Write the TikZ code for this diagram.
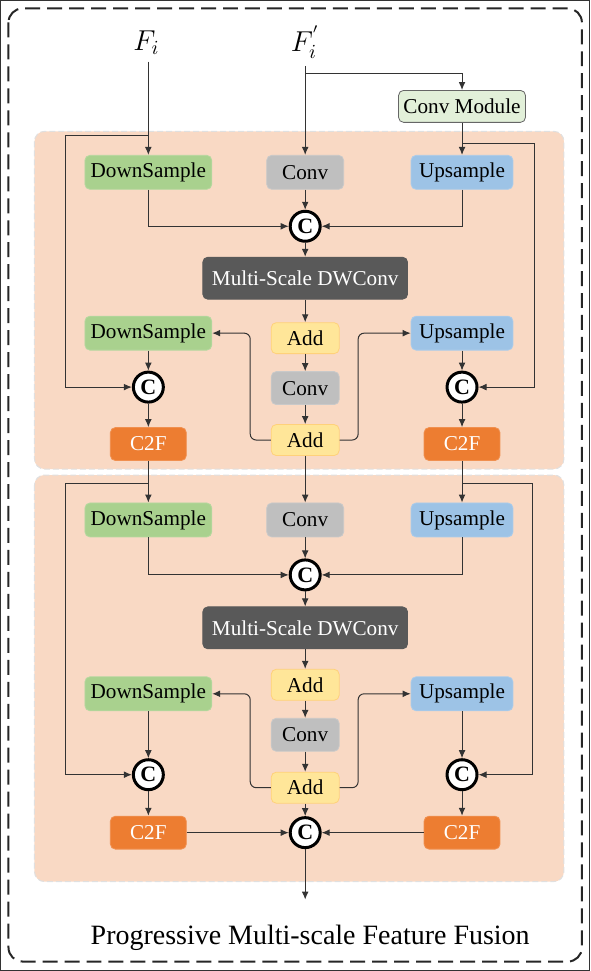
\documentclass[tikz,border=0pt]{standalone}
\usepackage{fontspec}
\setmainfont{Liberation Serif}
\usetikzlibrary{arrows.meta}
\definecolor{panelfill}{HTML}{F9D9C4}
\definecolor{dsgreen}{HTML}{A9D18E}
\definecolor{convgray}{HTML}{BFBFBF}
\definecolor{upblue}{HTML}{9DC3E6}
\definecolor{msgray}{HTML}{595959}
\definecolor{addyellow}{HTML}{FFE699}
\definecolor{c2forange}{HTML}{ED7D31}
\definecolor{cmgreen}{HTML}{E2F0D9}
\begin{document}
\begin{tikzpicture}[x=0.5pt,y=-0.5pt,>={Latex[length=4pt,width=3.4pt]},
    every path/.style={line width=0.5pt,draw=black!80},
    blk/.style={rounded corners=2.5pt,minimum height=17pt,inner sep=1pt,line width=0.4pt,
      font=\fontsize{10.6}{12}\selectfont},
    dsbox/.style={blk,fill=dsgreen,draw=dsgreen!85!white,minimum width=63.5pt},
    cvbox/.style={blk,fill=convgray,draw=convgray!85!white,minimum width=38.5pt},
    upbox/.style={blk,fill=upblue,draw=upblue!85!white,minimum width=51pt},
    msbox/.style={blk,fill=msgray,draw=msgray,text=white,minimum width=102.5pt,minimum height=21pt},
    addbox/.style={blk,fill=addyellow,draw=addyellow!80!orange,minimum width=34pt,minimum height=15.5pt},
    smcv/.style={blk,fill=convgray,draw=convgray!85!white,minimum width=34pt,minimum height=16.5pt},
    c2fbox/.style={blk,fill=c2forange,draw=c2forange!85!white,text=white,minimum width=38pt,minimum height=16.5pt},
    cat/.style={circle,draw=black,line width=1.5pt,fill=white,minimum size=15pt,inner sep=0pt,
      font=\fontsize{11}{12}\selectfont\bfseries},
    panel/.style={fill=panelfill,draw=black!12,dash pattern=on 3pt off 1.5pt,rounded corners=5pt}]
  \useasboundingbox (0,0) rectangle (590,971);
  \draw[black!85,line width=1pt,dash pattern=on 7.5pt off 3.5pt,rounded corners=7pt] (8,8) rectangle (582,962);
  \path[panel] (34,131) rectangle (564,469);
  \path[panel] (34,475) rectangle (564,882);
  % inputs
  \node (fi) at (146,42) {\fontsize{14}{16}\selectfont$F_i$};
  \node (fp) at (305,42) {\fontsize{14}{16}\selectfont$F_i^{'}$};
  \node[blk,fill=cmgreen,draw=black!60,minimum width=63.5pt,minimum height=16pt] (cm) at (462,106) {Conv Module};
  % first stage
  \node[dsbox] (ds1) at (148,172) {DownSample};
  \node[cvbox] (cv1) at (305,172) {Conv};
  \node[upbox] (up1) at (462,172) {Upsample};
  \node[cat] (cat1) at (305,226) {C};
  \node[msbox] (ms1) at (305,278) {Multi-Scale DWConv};
  \node[addbox] (add1) at (305,338) {Add};
  \node[smcv] (cv2) at (305,388) {Conv};
  \node[addbox] (add2) at (305,440) {Add};
  \node[dsbox] (ds2) at (148,333) {DownSample};
  \node[upbox] (up2) at (462,333) {Upsample};
  \node[cat] (catl1) at (148,387) {C};
  \node[cat] (catr1) at (462,387) {C};
  \node[c2fbox] (c2fl1) at (148,444) {C2F};
  \node[c2fbox] (c2fr1) at (462,444) {C2F};
  % second stage
  \node[dsbox] (ds3) at (148,520) {DownSample};
  \node[cvbox] (cv3) at (305,520) {Conv};
  \node[upbox] (up3) at (462,520) {Upsample};
  \node[cat] (cat2) at (305,575) {C};
  \node[msbox] (ms2) at (305,628) {Multi-Scale DWConv};
  \node[addbox] (add3) at (305,685) {Add};
  \node[smcv] (cv4) at (305,735) {Conv};
  \node[addbox] (add4) at (305,788) {Add};
  \node[dsbox] (ds4) at (148,694) {DownSample};
  \node[upbox] (up4) at (462,694) {Upsample};
  \node[cat] (catl2) at (148,775) {C};
  \node[cat] (catr2) at (462,775) {C};
  \node[c2fbox] (c2fl2) at (148,833) {C2F};
  \node[c2fbox] (c2fr2) at (462,833) {C2F};
  \node[cat] (catf) at (305,833) {C};
  \coordinate (out) at (305,900);
  \node[font=\fontsize{14}{16}\selectfont] (title) at (310,938) {Progressive Multi-scale Feature Fusion};
  % junctions
  \coordinate (jf) at (305,73);
  \coordinate (jl1) at (148,135);
  \coordinate (jr1) at (462,143);
  \coordinate (jl2) at (148,483);
  \coordinate (jr2) at (462,483);
  % connectors, input
  \draw[->] (fi.south -| ds1) -- (ds1);
  \draw[->] (fp.south -| cv1) -- (cv1);
  \draw[->] (jf) -| (cm);
  \draw[->] (cm) -- (up1);
  \draw[->] (jl1) -- (65,135) |- (catl1);
  \draw[->] (jr1) -- (535,143) |- (catr1);
  % connectors, first stage
  \draw[->] (ds1) |- (cat1);
  \draw[->] (up1) |- (cat1);
  \draw[->] (cv1) -- (cat1);
  \draw[->] (cat1) -- (ms1);
  \draw[->] (ms1) -- (add1);
  \draw[->] (add1) -- (cv2);
  \draw[->] (cv2) -- (add2);
  \draw[->,rounded corners=3pt] (add2) -- (250,440) |- (ds2);
  \draw[->,rounded corners=3pt] (add2) -- (358,440) |- (up2);
  \draw[->] (ds2) -- (catl1);
  \draw[->] (up2) -- (catr1);
  \draw[->] (catl1) -- (c2fl1);
  \draw[->] (catr1) -- (c2fr1);
  % connectors, second stage
  \draw[->] (c2fl1) -- (ds3);
  \draw[->] (c2fr1) -- (up3);
  \draw[->] (add2) -- (cv3);
  \draw[->] (jl2) -- (65,483) |- (catl2);
  \draw[->] (jr2) -- (533,483) |- (catr2);
  \draw[->] (ds3) |- (cat2);
  \draw[->] (up3) |- (cat2);
  \draw[->] (cv3) -- (cat2);
  \draw[->] (cat2) -- (ms2);
  \draw[->] (ms2) -- (add3);
  \draw[->] (add3) -- (cv4);
  \draw[->] (cv4) -- (add4);
  \draw[->,rounded corners=3pt] (add4) -- (250,788) |- (ds4);
  \draw[->,rounded corners=3pt] (add4) -- (358,788) |- (up4);
  \draw[->] (ds4) -- (catl2);
  \draw[->] (up4) -- (catr2);
  \draw[->] (catl2) -- (c2fl2);
  \draw[->] (catr2) -- (c2fr2);
  \draw[->] (c2fl2) -- (catf);
  \draw[->] (c2fr2) -- (catf);
  \draw[->] (add4) -- (catf);
  \draw[->] (catf) -- (out);
\end{tikzpicture}
\end{document}
